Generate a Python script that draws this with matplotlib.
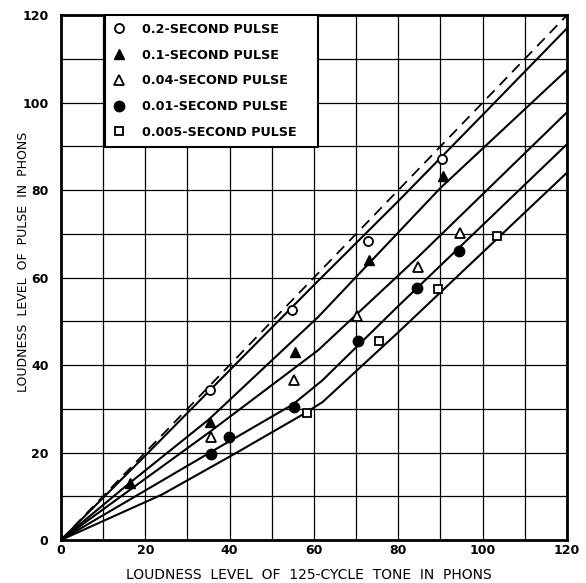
import matplotlib
matplotlib.use("Agg")
import matplotlib.pyplot as plt

plt.rcParams['font.family'] = ['DejaVu Sans']
plt.rcParams['font.weight'] = 'bold'

# measured points (tone level, pulse level) for each pulse duration
x_02 = [35.3, 54.9, 72.9, 90.3]
y_02 = [34.4, 52.6, 68.3, 87.1]
x_01 = [16.4, 35.3, 55.5, 73.1, 90.5]
y_01 = [13.0, 27.0, 42.9, 64.0, 83.3]
x_004 = [35.5, 55.3, 70.3, 84.6, 94.6]
y_004 = [23.6, 36.6, 51.2, 62.5, 70.2]
x_001 = [35.7, 39.8, 55.3, 70.5, 84.5, 94.5]
y_001 = [19.6, 23.5, 30.5, 45.5, 57.5, 66.1]
x_0005 = [58.3, 75.5, 89.3, 103.5]
y_0005 = [29.1, 45.5, 57.4, 69.5]

# fitted curves
cx_02 = [0, 20, 40, 60, 80, 100, 120]
cy_02 = [0, 19.3, 38.8, 58.3, 77.5, 97.2, 117]
cx_01 = [0, 16, 35, 61, 90, 120]
cy_01 = [0, 12.8, 27.5, 51, 80.5, 107.5]
cx_004 = [0, 35, 61, 85, 120]
cy_004 = [0, 24.5, 43.4, 65, 97.8]
cx_001 = [0, 35, 55, 62, 80, 120]
cy_001 = [0, 19.8, 31, 36.5, 53.5, 90.5]
cx_0005 = [0, 24, 41, 57, 62, 80, 120]
cy_0005 = [0, 10.4, 19.6, 28.5, 31.5, 47.5, 84]

fig = plt.figure(figsize=(5.86, 5.83), dpi=100)
ax = fig.add_axes([0.104, 0.0738, 0.8636, 0.9002])

# equal loudness reference
ax.plot([0, 120], [0, 120], color='black', lw=1.3, ls=(0, (6, 4)))
for cx, cy in [(cx_02, cy_02), (cx_01, cy_01), (cx_004, cy_004),
               (cx_001, cy_001), (cx_0005, cy_0005)]:
    ax.plot(cx, cy, color='black', lw=1.5)

ms = 6.5
h1, = ax.plot(x_02, y_02, 'o', ms=ms, mfc='white', mec='black', mew=1.3,
              label='0.2-SECOND PULSE')
h2, = ax.plot(x_01, y_01, '^', ms=ms, mfc='black', mec='black',
              label='0.1-SECOND PULSE')
h3, = ax.plot(x_004, y_004, '^', ms=ms, mfc='white', mec='black', mew=1.3,
              label='0.04-SECOND PULSE')
h4, = ax.plot(x_001, y_001, 'o', ms=ms + 1, mfc='black', mec='black',
              label='0.01-SECOND PULSE')
h5, = ax.plot(x_0005, y_0005, 's', ms=ms - 0.5, mfc='white', mec='black', mew=1.3,
              label='0.005-SECOND PULSE')

ax.set_xlim(0, 120)
ax.set_ylim(0, 120)
ax.set_xticks(range(0, 121, 10))
ax.set_yticks(range(0, 121, 10))
ax.set_xticklabels([str(v) if v % 20 == 0 else '' for v in range(0, 121, 10)])
ax.set_yticklabels([str(v) if v % 20 == 0 else '' for v in range(0, 121, 10)])
ax.tick_params(length=0, labelsize=9)
ax.tick_params(axis='x', pad=3)
ax.tick_params(axis='y', pad=9)
ax.grid(True, color='black', lw=0.9)
ax.set_axisbelow(True)
for s in ax.spines.values():
    s.set_linewidth(2)

ax.set_xlabel('LOUDNESS  LEVEL  OF  125-CYCLE  TONE  IN  PHONS', fontsize=10)
ax.xaxis.set_label_coords(0.49, -0.054)
ax.set_ylabel('LOUDNESS  LEVEL  OF  PULSE  IN  PHONS', fontsize=9)
ax.yaxis.set_label_coords(-0.062, 0.53)

leg = ax.legend(handles=[h1, h2, h3, h4, h5], loc='upper left',
                bbox_to_anchor=(0.087, 0.75, 0.421, 0.25), mode='expand',
                borderaxespad=0, fontsize=9.2,
                frameon=True, fancybox=False, edgecolor='black', framealpha=1,
                handlelength=1.0, handletextpad=1.3, labelspacing=1.0,
                borderpad=0.6)
leg.get_frame().set_linewidth(1.5)

fig.savefig('out.png', dpi=100)
